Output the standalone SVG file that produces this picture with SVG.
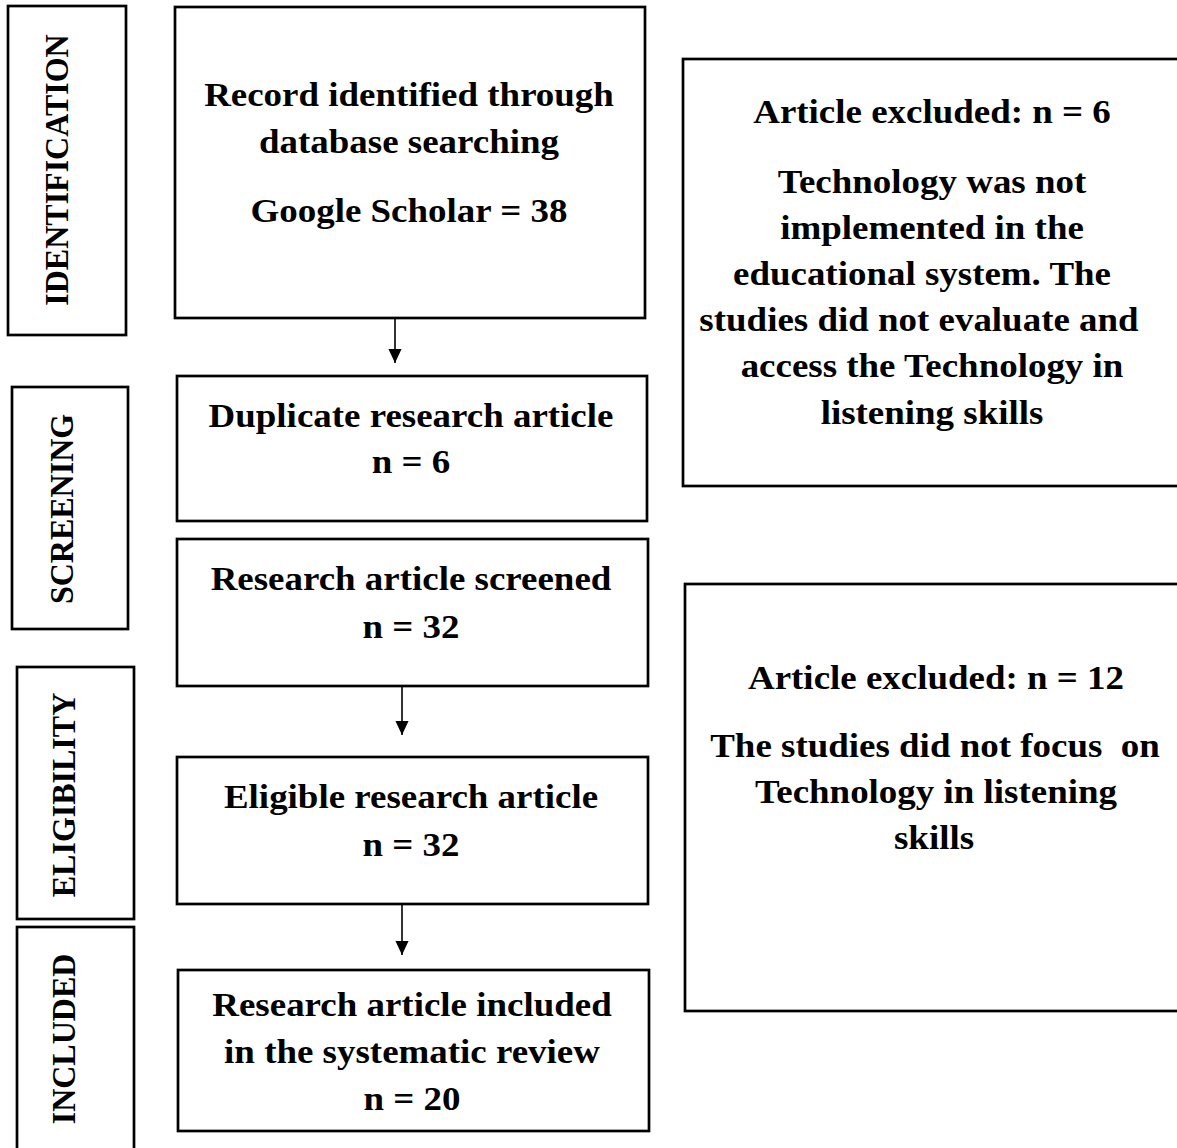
<svg xmlns="http://www.w3.org/2000/svg" width="1177" height="1148" viewBox="0 0 1177 1148">
<style>
  .box { fill: #ffffff; stroke: #000000; stroke-width: 2.7; }
  .t { font-family: "Liberation Serif", "Times New Roman", serif; font-weight: bold; font-size: 33px; fill: #000000; text-anchor: middle; }
  .side { font-family: "Liberation Serif", "Times New Roman", serif; font-weight: bold; font-size: 32px; fill: #000000; text-anchor: middle; }
  .conn { stroke: #000000; stroke-width: 1.6; fill: none; }
</style>
<defs>
  <marker id="arrow" markerUnits="userSpaceOnUse" markerWidth="14" markerHeight="15" viewBox="0 0 15 14" refX="15" refY="7" orient="auto">
    <path d="M0,0 L15,7 L0,14 z" fill="#000000"/>
  </marker>
</defs>
<rect width="1177" height="1148" fill="#ffffff"/>

<g id="stage-identification">
  <rect class="box" x="8" y="6" width="118" height="329"/>
  <text class="side" transform="translate(68,170) scale(1.08,1) rotate(-90)">IDENTIFICATION</text>
</g>
<g id="stage-screening">
  <rect class="box" x="12" y="387" width="116" height="242"/>
  <text class="side" transform="translate(73,509) scale(1.08,1) rotate(-90)">SCREENING</text>
</g>
<g id="stage-eligibility">
  <rect class="box" x="17" y="667" width="117" height="252"/>
  <text class="side" transform="translate(75,795) scale(1.08,1) rotate(-90)">ELIGIBILITY</text>
</g>
<g id="stage-included">
  <rect class="box" x="17" y="927" width="117" height="240"/>
  <text class="side" transform="translate(75,1039) scale(1.08,1) rotate(-90)">INCLUDED</text>
</g>

<g id="node-identified">
  <rect class="box" x="175" y="7" width="470" height="311"/>
  <text class="t" transform="translate(409,106) scale(1.12,1)">Record identified through</text>
  <text class="t" transform="translate(409,153) scale(1.12,1)">database searching</text>
  <text class="t" transform="translate(409,222) scale(1.12,1)">Google Scholar = 38</text>
</g>
<g id="node-duplicate">
  <rect class="box" x="177" y="376" width="470" height="145"/>
  <text class="t" transform="translate(411,427) scale(1.12,1)">Duplicate research article</text>
  <text class="t" transform="translate(411,473) scale(1.12,1)">n = 6</text>
</g>
<g id="node-screened">
  <rect class="box" x="177" y="539" width="471" height="147"/>
  <text class="t" transform="translate(411,590) scale(1.12,1)">Research article screened</text>
  <text class="t" transform="translate(411,638) scale(1.12,1)">n = 32</text>
</g>
<g id="node-eligible">
  <rect class="box" x="177" y="757" width="471" height="147"/>
  <text class="t" transform="translate(411,808) scale(1.12,1)">Eligible research article</text>
  <text class="t" transform="translate(411,856) scale(1.12,1)">n = 32</text>
</g>
<g id="node-included">
  <rect class="box" x="178" y="970" width="471" height="161"/>
  <text class="t" transform="translate(412,1016) scale(1.12,1)">Research article included</text>
  <text class="t" transform="translate(412,1063) scale(1.12,1)">in the systematic review</text>
  <text class="t" transform="translate(412,1110) scale(1.12,1)">n = 20</text>
</g>

<g id="node-excluded-1">
  <rect class="box" x="683" y="59" width="520" height="427"/>
  <text class="t" transform="translate(932,123) scale(1.12,1)">Article excluded: n = 6</text>
  <text class="t" transform="translate(932,193) scale(1.12,1)">Technology was not</text>
  <text class="t" transform="translate(932,239) scale(1.12,1)">implemented in the</text>
  <text class="t" transform="translate(922,285) scale(1.12,1)">educational system. The</text>
  <text class="t" transform="translate(919,331) scale(1.12,1)">studies did not evaluate and</text>
  <text class="t" transform="translate(932,377) scale(1.12,1)">access the Technology in</text>
  <text class="t" transform="translate(932,424) scale(1.12,1)">listening skills</text>
</g>
<g id="node-excluded-2">
  <rect class="box" x="685" y="584" width="520" height="427"/>
  <text class="t" transform="translate(936,689) scale(1.12,1)">Article excluded: n = 12</text>
  <text class="t" transform="translate(935,757) scale(1.12,1)" xml:space="preserve">The studies did not focus  on</text>
  <text class="t" transform="translate(936,803) scale(1.12,1)">Technology in listening</text>
  <text class="t" transform="translate(934,849) scale(1.12,1)">skills</text>
</g>

<g id="connectors">
  <line class="conn" x1="395" y1="318" x2="395" y2="363" marker-end="url(#arrow)"/>
  <line class="conn" x1="402" y1="686" x2="402" y2="735" marker-end="url(#arrow)"/>
  <line class="conn" x1="402" y1="904" x2="402" y2="955" marker-end="url(#arrow)"/>
</g>
</svg>
